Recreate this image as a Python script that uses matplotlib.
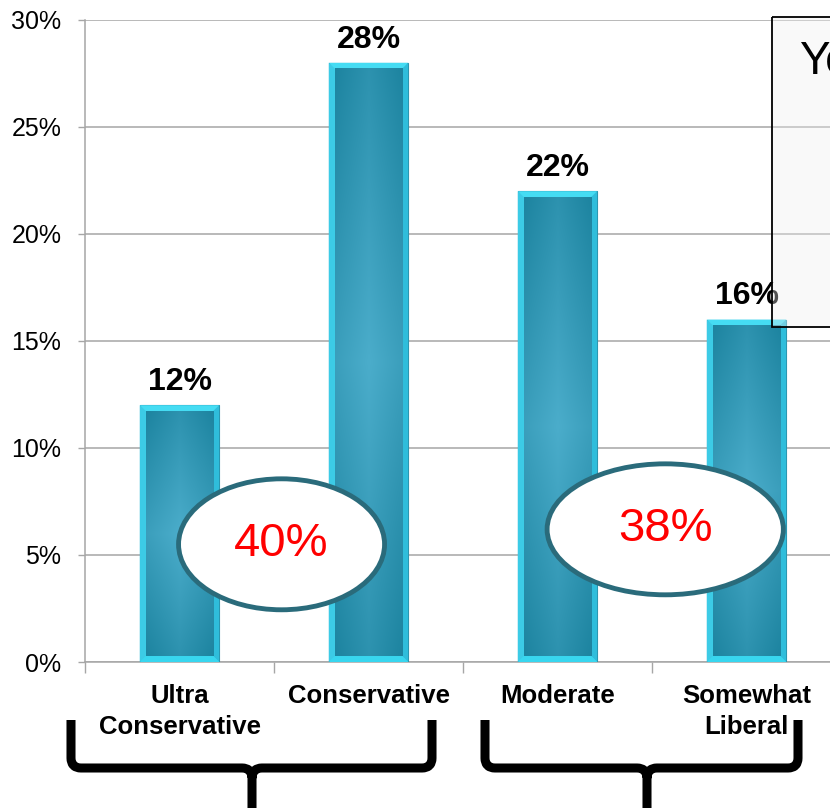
import numpy as np
import matplotlib.pyplot as plt
from matplotlib.patches import Ellipse, Rectangle, Polygon, PathPatch
from matplotlib.path import Path

categories = ["Ultra\nConservative", "Conservative", "Moderate", "Somewhat\nLiberal"]
shares = [12, 28, 22, 16]
yticks = [0, 5, 10, 15, 20, 25, 30]
groups = [(0, 1), (2, 3)]  # which bars go into each bubble total

plt.rcParams['font.family'] = ['Liberation Sans', 'DejaVu Sans']

fig = plt.figure(figsize=(8.3, 8.08), dpi=100)
ax = fig.add_axes([85 / 830, 1 - 662 / 808, 756 / 830, 642 / 808])

x = np.arange(len(categories))
bars = ax.bar(x, shares, width=0.42, color='#3fd3ec', edgecolor='#2b8fa8',
              linewidth=0.8, zorder=3)

# shaded body for the bars: darker at the ends, lighter in the middle
ny, nx = 200, 60
yy = np.linspace(0, 1, ny)[:, None]
xx = np.linspace(0, 1, nx)[None, :]
t = (1 - np.abs(2 * yy - 1)) * 0.65 + (1 - np.abs(2 * xx - 1)) * 0.35
dark = np.array([0x1d, 0x84, 0xa0]) / 255
light = np.array([0x4b, 0xad, 0xcb]) / 255
body = dark + (light - dark) * t[..., None]

dx, dy = 0.032, 0.28
for b in bars:
    x0, w, h = b.get_x(), b.get_width(), b.get_height()
    x1 = x0 + w
    ax.add_patch(Polygon([(x0, h), (x1, h), (x1 - dx, h - dy), (x0 + dx, h - dy)],
                         color='#45dcf3', zorder=4, lw=0))
    ax.add_patch(Polygon([(x0, 0), (x0, h), (x0 + dx, h - dy), (x0 + dx, dy)],
                         color='#3ccbe6', zorder=4, lw=0))
    ax.add_patch(Polygon([(x1, 0), (x1, h), (x1 - dx, h - dy), (x1 - dx, dy)],
                         color='#2fbddb', zorder=4, lw=0))
    ax.add_patch(Polygon([(x0, 0), (x1, 0), (x1 - dx, dy), (x0 + dx, dy)],
                         color='#38d6ef', zorder=4, lw=0))
    ax.imshow(body, extent=[x0 + dx, x1 - dx, dy, h - dy], aspect='auto',
              origin='lower', zorder=5)

for xi, v in zip(x, shares):
    ax.annotate(f"{v}%", (xi, v), xytext=(0, 11), textcoords='offset points',
                ha='center', va='baseline', fontsize=23, fontweight='bold', zorder=6)

ax.set_xlim(-0.5, 3.5)
ax.set_ylim(0, 30)
ax.set_yticks(yticks)
ax.set_yticklabels([f"{v}%" for v in yticks], fontsize=18)
ax.set_xticks(x)
ax.set_xticklabels(categories, fontsize=18.5, fontweight='bold', linespacing=1.35)
ax.set_xticks(np.arange(-0.5, len(categories), 1), minor=True)
ax.tick_params(axis='y', length=5, width=1, color='#a6a6a6', pad=12)
ax.tick_params(axis='x', which='major', length=0, pad=16)
ax.tick_params(axis='x', which='minor', length=8, width=1, color='#a6a6a6')
ax.yaxis.grid(True, color='#a6a6a6', linewidth=1.1)
ax.set_axisbelow(True)
for s in ['top', 'right']:
    ax.spines[s].set_visible(False)
for s in ['left', 'bottom']:
    ax.spines[s].set_color('#a6a6a6')
    ax.spines[s].set_linewidth(1.1)

# bubbles with the combined share of each pair of bars
bubbles = [(0.54, 5.5, 1.09, 6.12), (2.57, 6.2, 1.25, 6.12)]
for (i, j), (cx, cy, bw, bh) in zip(groups, bubbles):
    ax.add_patch(Ellipse((cx, cy), bw, bh, facecolor='white', edgecolor='#2a6b7b',
                         linewidth=3.5, zorder=7))
    ax.text(cx, cy, f"{shares[i] + shares[j]}%", color='red', fontsize=34,
            ha='center', va='center', zorder=8)

# overlay in pixel units for the braces and the side box
ov = fig.add_axes([0, 0, 1, 1], zorder=10)
ov.set_xlim(0, 830)
ov.set_ylim(808, 0)
ov.axis('off')
ov.patch.set_alpha(0)


def brace(x0, x1, xc, top=720, mid=768, bottom=815, r=10):
    verts = [(x0, top), (x0, mid - r), (x0, mid), (x0 + r, mid), (xc - r, mid),
             (xc, mid), (xc, mid + r), (xc, bottom),
             (x1, top), (x1, mid - r), (x1, mid), (x1 - r, mid), (xc + r, mid),
             (xc, mid), (xc, mid + r)]
    codes = [Path.MOVETO, Path.LINETO, Path.CURVE3, Path.CURVE3, Path.LINETO,
             Path.CURVE3, Path.CURVE3, Path.LINETO,
             Path.MOVETO, Path.LINETO, Path.CURVE3, Path.CURVE3, Path.LINETO,
             Path.CURVE3, Path.CURVE3]
    ov.add_patch(PathPatch(Path(verts, codes), fill=False, lw=6.5, color='black',
                           capstyle='butt', joinstyle='round'))


brace(71, 432, 252)
brace(485, 798, 647)

ov.add_patch(Rectangle((772, 17), 100, 310, facecolor='#eeeeee', alpha=0.35, lw=0))
ov.add_patch(Rectangle((772, 17), 100, 310, fill=False, edgecolor='black', lw=1.3))
ov.text(799, 74, "You", fontsize=33, va='baseline', ha='left')

fig.savefig("out.png", dpi=100, facecolor='white')
